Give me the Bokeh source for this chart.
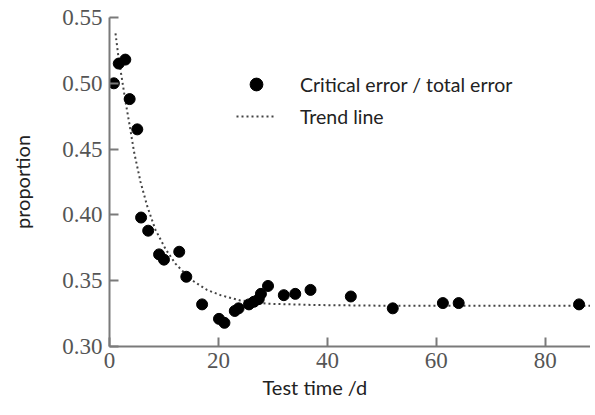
from bokeh.plotting import figure
from bokeh.models import Range1d, FixedTicker, Legend, LegendItem, Title
from bokeh.embed import file_html
from bokeh.resources import INLINE

# measured data: test time (d) vs proportion
test_time = [0.8, 1.7, 2.9, 3.7, 5.1, 5.8, 7.1, 9.1, 10.0, 12.8, 14.1, 17.0,
             20.1, 21.1, 23.0, 23.7, 25.6, 26.5, 27.4, 27.8, 29.1, 32.0, 34.1,
             36.9, 44.3, 52.0, 61.2, 64.1, 86.2]
proportion = [0.500, 0.515, 0.518, 0.488, 0.465, 0.398, 0.388, 0.370, 0.366,
              0.372, 0.353, 0.332, 0.321, 0.318, 0.327, 0.329, 0.332, 0.334,
              0.336, 0.340, 0.346, 0.339, 0.340, 0.343, 0.338, 0.329, 0.333,
              0.333, 0.332]

# trend line
trend_x = [1.1, 1.7, 2.3, 2.9, 3.7, 4.5, 5.7, 6.9, 8.4, 10.3, 12.1, 14.9,
           17.9, 20.4, 24.0, 29.0, 38.0, 50.0, 70.0, 89.0]
trend_y = [0.538, 0.518, 0.503, 0.487, 0.468, 0.448, 0.425, 0.407, 0.389,
           0.374, 0.363, 0.351, 0.343, 0.339, 0.335, 0.3325, 0.3315, 0.331,
           0.331, 0.331]

x_ticks = [0, 20, 40, 60, 80]
y_ticks = [0.30, 0.35, 0.40, 0.45, 0.50, 0.55]
y_tick_labels = {0.30: "0.30", 0.35: "0.35", 0.40: "0.40", 0.45: "0.45",
                 0.50: "0.50", 0.55: "0.55"}

p = figure(width=590, height=405, output_backend="svg", toolbar_location=None,
           x_range=Range1d(0, 88.3), y_range=Range1d(0.30, 0.55),
           min_border_left=109, min_border_right=0, min_border_top=17,
           min_border_bottom=59)
p.outline_line_color = None
p.grid.visible = False
p.background_fill_color = "white"
p.border_fill_color = "white"

for ax in (p.xaxis[0], p.yaxis[0]):
    ax.axis_line_color = "#7a7a7a"
    ax.axis_line_width = 2
    ax.major_tick_line_color = "#7a7a7a"
    ax.major_tick_line_width = 2
    ax.major_tick_in = 9
    ax.major_tick_out = 0
    ax.minor_tick_line_color = None
    ax.major_label_text_font = "Liberation Serif"
    ax.major_label_text_font_size = "23px"
    ax.major_label_text_color = "#555555"

p.xaxis[0].ticker = FixedTicker(ticks=x_ticks)
p.yaxis[0].ticker = FixedTicker(ticks=y_ticks)
p.yaxis[0].major_label_overrides = y_tick_labels
p.xaxis[0].major_label_standoff = 6
p.yaxis[0].major_label_standoff = 7

p.yaxis[0].axis_label = "proportion"
p.yaxis[0].axis_label_standoff = 25
p.yaxis[0].axis_label_text_font = "Lato"
p.yaxis[0].axis_label_text_font_size = "20px"
p.yaxis[0].axis_label_text_font_style = "normal"
p.yaxis[0].axis_label_text_color = "#222222"

trend = p.line(trend_x, trend_y, line_color="#444444", line_width=2,
               line_dash="2 3")
pts = p.scatter(test_time, proportion, size=11, color="black")

legend = Legend(items=[LegendItem(label="Critical error / total error", renderers=[pts]),
                       LegendItem(label="Trend line", renderers=[trend])],
                location=(127, 214), orientation="vertical",
                glyph_width=40, glyph_height=32, label_height=32,
                label_standoff=24, spacing=0, padding=0, margin=0,
                border_line_color=None, background_fill_alpha=0,
                label_text_font="Lato", label_text_font_size="19.5px",
                label_text_color="#222222")
p.add_layout(legend, "center")

p.add_layout(Title(text="Test time /d", align="left", offset=153, standoff=4,
                   text_font="Lato", text_font_size="20px",
                   text_font_style="normal", text_color="#222222"), "below")

open("out.html", "w").write(file_html(p, INLINE))
